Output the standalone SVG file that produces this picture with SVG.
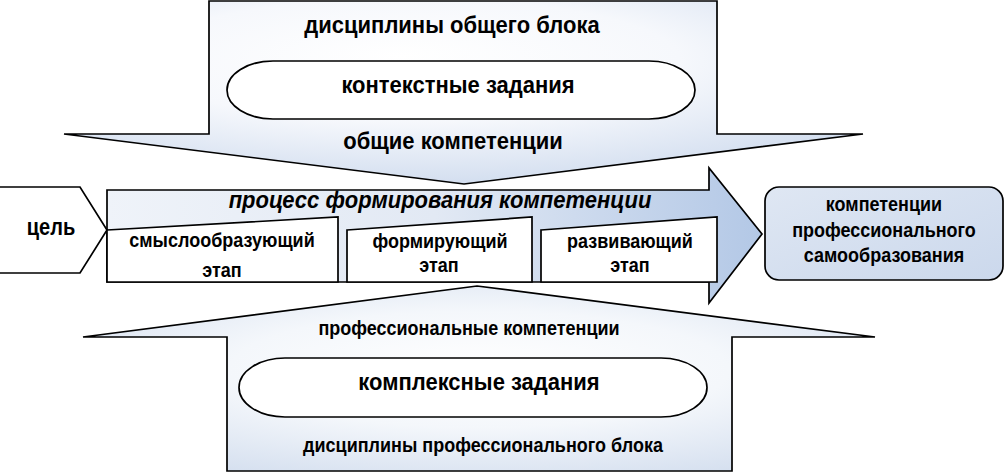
<svg xmlns="http://www.w3.org/2000/svg" width="1004" height="472" viewBox="0 0 1004 472">
  <style>
    .shape { stroke: #000; stroke-width: 1.7; stroke-linejoin: miter; }
    .white { fill: #fff; }
    text { font-family: "Liberation Sans", Arial, sans-serif; font-weight: bold; fill: #000; text-anchor: middle; }
    .t22 { font-size: 22px; }
    .t18 { font-size: 18px; }
    .t20 { font-size: 20px; }
    .it { font-style: italic; }
  </style>
  <defs>
    <radialGradient id="gTop" cx="0.45" cy="0.35" r="0.75" fx="0.42" fy="0.3">
      <stop offset="0" stop-color="#ffffff"/>
      <stop offset="0.45" stop-color="#f6f8fc"/>
      <stop offset="1" stop-color="#c9d7ec"/>
    </radialGradient>
    <radialGradient id="gBot" cx="0.5" cy="0.45" r="0.7">
      <stop offset="0" stop-color="#ffffff"/>
      <stop offset="0.45" stop-color="#f4f7fb"/>
      <stop offset="1" stop-color="#cfdbed"/>
    </radialGradient>
    <linearGradient id="gMain" x1="0" y1="0" x2="1" y2="0">
      <stop offset="0" stop-color="#eff3f9"/>
      <stop offset="0.5" stop-color="#e2e9f4"/>
      <stop offset="1" stop-color="#b3c8e6"/>
    </linearGradient>
    <linearGradient id="gBox" x1="0" y1="0" x2="1" y2="1">
      <stop offset="0" stop-color="#dfe7f3"/>
      <stop offset="1" stop-color="#cbd8ec"/>
    </linearGradient>
  </defs>

  <g id="top-arrow">
    <polygon class="shape" fill="url(#gTop)" points="209,1 717,1 717,134 863,134 464,184 64,134 209,134"/>
    <text class="t22" transform="translate(452,33) scale(1,1.12)">дисциплины общего блока</text>
    <text class="t22" transform="translate(453,149) scale(1,1.12)">общие компетенции</text>
  </g>
  <g id="context-tasks">
    <rect class="shape white" x="227" y="61" width="468" height="58" rx="46" ry="29"/>
    <text class="t22" transform="translate(458,93) scale(1,1.12)">контекстные задания</text>
  </g>

  <g id="bottom-arrow">
    <polygon class="shape" fill="url(#gBot)" points="477,286 875,337 732,337 732,471 227,471 227,337 83,337"/>
    <text class="t18" transform="translate(469,335) scale(1,1.12)">профессиональные компетенции</text>
    <text class="t18" transform="translate(483,452) scale(1,1.12)">дисциплины профессионального блока</text>
  </g>
  <g id="complex-tasks">
    <rect class="shape white" x="239" y="358" width="468" height="59" rx="46" ry="29.5"/>
    <text class="t22" transform="translate(479,390) scale(1,1.12)">комплексные задания</text>
  </g>

  <g id="process-arrow">
    <polygon class="shape" fill="url(#gMain)" points="107,190 709,190 709,168 762,234 709,303 709,282 107,282"/>
    <text class="t22 it" transform="translate(440,208) scale(1,1.12)">процесс формирования компетенции</text>
  </g>

  <g id="goal">
    <polygon class="shape white" points="-1,187 80,187 107,230 80,273 -1,273"/>
    <text class="t20" transform="translate(51,235) scale(1,1.2)">цель</text>
  </g>

  <g id="stage1">
    <polygon class="shape white" points="107,230 338,217 338,282 107,282"/>
    <text class="t18" transform="translate(222,247) scale(1,1.12)">смыслообразующий</text>
    <text class="t18" transform="translate(222,277) scale(1,1.12)">этап</text>
  </g>
  <g id="stage2">
    <polygon class="shape white" points="347,230 532,217 532,282 347,282"/>
    <text class="t18" transform="translate(440,248) scale(1,1.12)">формирующий</text>
    <text class="t18" transform="translate(439,272) scale(1,1.12)">этап</text>
  </g>
  <g id="stage3">
    <polygon class="shape white" points="541,230 717,217 717,282 541,282"/>
    <text class="t18" transform="translate(630,248) scale(1,1.12)">развивающий</text>
    <text class="t18" transform="translate(630,272) scale(1,1.12)">этап</text>
  </g>

  <g id="result">
    <rect class="shape" fill="url(#gBox)" x="765" y="187" width="238" height="93" rx="14" ry="14"/>
    <text class="t18" transform="translate(884,211) scale(1,1.12)">компетенции</text>
    <text class="t18" transform="translate(884,237) scale(1,1.12)">профессионального</text>
    <text class="t18" transform="translate(884,262) scale(1,1.12)">самообразования</text>
  </g>

  <g id="connectors"></g>
</svg>
